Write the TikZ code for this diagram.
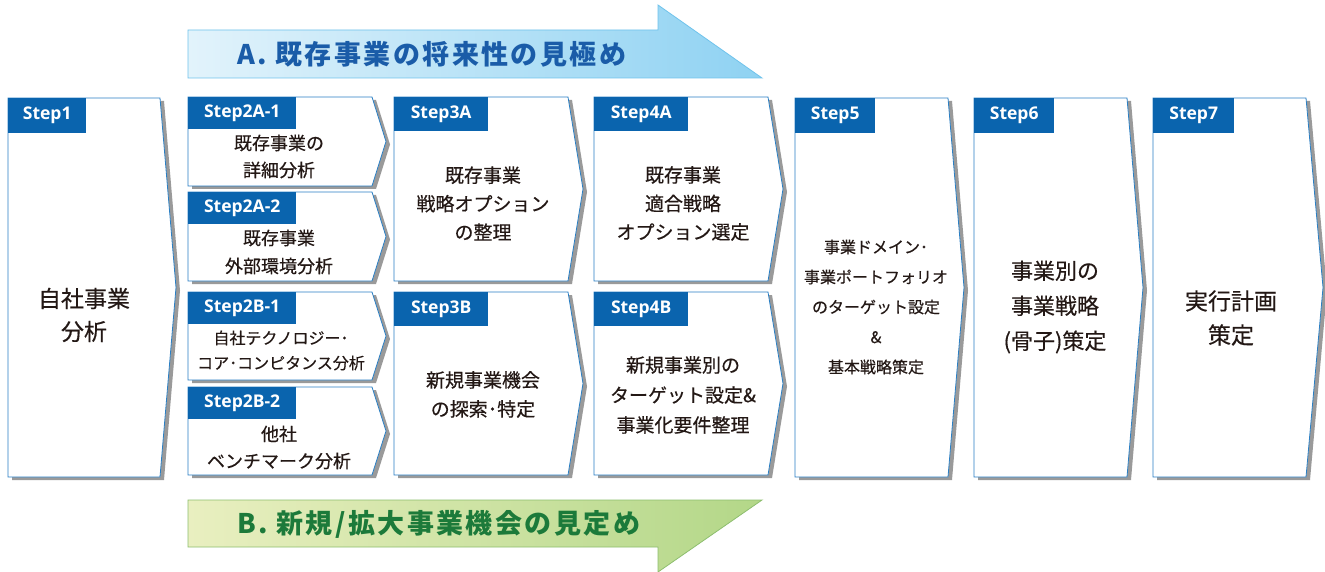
\documentclass[tikz,border=0pt]{standalone}
\usepackage{fontspec}
\setmainfont{Noto Sans CJK JP}[FakeBold=0.4]
\newfontfamily\tagfont{Open Sans}
\newfontfamily\headfont{Noto Sans CJK JP}[LetterSpace=9]
\definecolor{stepblue}{HTML}{0A64AE}
\definecolor{boxline}{HTML}{2A7FC4}
\definecolor{shadowc}{HTML}{9A9A9A}
\definecolor{textc}{HTML}{231815}
\definecolor{headAtext}{HTML}{1A5CA8}
\definecolor{headBtext}{HTML}{1C7A3A}
\definecolor{headAl}{HTML}{E2F3FB}
\definecolor{headAr}{HTML}{8FD2F2}
\definecolor{headAline}{HTML}{6FC3EC}
\definecolor{headBl}{HTML}{E9EFC0}
\definecolor{headBr}{HTML}{B3D788}
\definecolor{headBline}{HTML}{8DBE6E}
\newcommand\drawstep[9]{%
  \pgfmathsetmacro\midy{(#3+#5)/2}%
  \pgfmathsetmacro\tipx{#4+#6}%
  \fill[shadowc] (#2+4,#3+3) -- (#4+4,#3+3) -- (\tipx+4,\midy+3) -- (#4+4,#5+3) -- (#2+4,#5+3) -- cycle;
  \filldraw[fill=white,draw=boxline,line width=0.8pt] (#2,#3) -- (#4,#3) -- (\tipx,\midy) -- (#4,#5) -- (#2,#5) -- cycle;
  \node[tagbox,minimum width=#7,minimum height=#8] (#1) at (#2,#3) {#9};
}
\begin{document}
\begin{tikzpicture}[x=1pt,y=-1pt,
  tagbox/.style={fill=stepblue,text=white,font=\tagfont\bfseries\fontsize{17.5}{17.5}\selectfont,inner sep=0pt,anchor=north west},
  body/.style={text=textc,align=center,inner sep=0pt},
  headtxt/.style={anchor=west,inner sep=0pt,font=\headfont\bfseries\fontsize{27}{27}\selectfont}]
\useasboundingbox[fill=white] (0,0) rectangle (1325,572);

% heading arrows
\shade[left color=headAl,right color=headAr] (188,30) -- (658,30) -- (658,5) -- (762,78) -- (188,78) -- cycle;
\draw[headAline,line width=0.8pt] (188,30) -- (658,30) -- (658,5) -- (762,78) -- (188,78) -- cycle;
\node[headtxt,text=headAtext] (hA) at (237,54) {A. 既存事業の将来性の見極め};

\shade[left color=headBl,right color=headBr] (188,500) -- (762,500) -- (658,572) -- (658,547) -- (188,547) -- cycle;
\draw[headBline,line width=0.8pt] (188,500) -- (762,500) -- (658,572) -- (658,547) -- (188,547) -- cycle;
\node[headtxt,text=headBtext] (hB) at (237,524) {B. 新規/拡大事業機会の見定め};

% steps
\drawstep{s1}{8}{98}{160}{477}{16}{78}{35}{Step1}
\drawstep{s2a1}{188}{97}{372}{186}{14}{108}{32}{Step2A-1}
\drawstep{s2a2}{188}{192}{372}{281}{14}{108}{32}{Step2A-2}
\drawstep{s2b1}{188}{292}{372}{380}{14}{108}{32}{Step2B-1}
\drawstep{s2b2}{188}{387}{372}{475}{14}{108}{32}{Step2B-2}
\drawstep{s3a}{394}{97}{568}{281}{15}{94}{34}{Step3A}
\drawstep{s3b}{394}{292}{568}{475}{15}{94}{34}{Step3B}
\drawstep{s4a}{594}{97}{768}{281}{15}{94}{34}{Step4A}
\drawstep{s4b}{594}{292}{768}{475}{15}{94}{34}{Step4B}
\drawstep{s5}{795}{98}{948}{477}{16}{80}{35}{Step5}
\drawstep{s6}{974}{98}{1127}{477}{16}{80}{35}{Step6}
\drawstep{s7}{1153}{98}{1306}{477}{17}{81}{35}{Step7}

% texts
\node[body,font=\fontsize{23}{33}\selectfont] (t1) at (84,315) {自社事業\\分析};
\node[body,font=\fontsize{18}{27}\selectfont] (t2a1) at (279,156.5) {既存事業の\\詳細分析};
\node[body,font=\fontsize{18}{28}\selectfont] (t2a2) at (279,252) {既存事業\\外部環境分析};
\node[body,font=\fontsize{16}{25}\selectfont] (t2b1) at (281,350.5) {自社テクノロジー･\\コア･コンピタンス分析};
\node[body,font=\fontsize{18}{27}\selectfont] (t2b2) at (279,447.5) {他社\\ベンチマーク分析};
\node[body,font=\fontsize{19}{28.5}\selectfont] (t3a) at (483,203.5) {既存事業\\戦略オプション\\の整理};
\node[body,font=\fontsize{19}{29}\selectfont] (t3b) at (483,394.5) {新規事業機会\\の探索･特定};
\node[body,font=\fontsize{19}{28.5}\selectfont] (t4a) at (683,203.5) {既存事業\\適合戦略\\オプション選定};
\node[body,font=\fontsize{19}{30}\selectfont] (t4b) at (683,395) {新規事業別の\\ターゲット設定\&\\事業化要件整理};
\node[body,font=\fontsize{16}{30}\selectfont] (t5) at (876,307) {事業ドメイン･\\事業ポートフォリオ\\のターゲット設定\\\&\\基本戦略策定};
\node[body,font=\fontsize{22}{35}\selectfont] (t6) at (1055,307) {事業別の\\事業戦略\\(骨子)策定};
\node[body,font=\fontsize{23}{34}\selectfont] (t7) at (1231,318) {実行計画\\策定};
\end{tikzpicture}
\end{document}
